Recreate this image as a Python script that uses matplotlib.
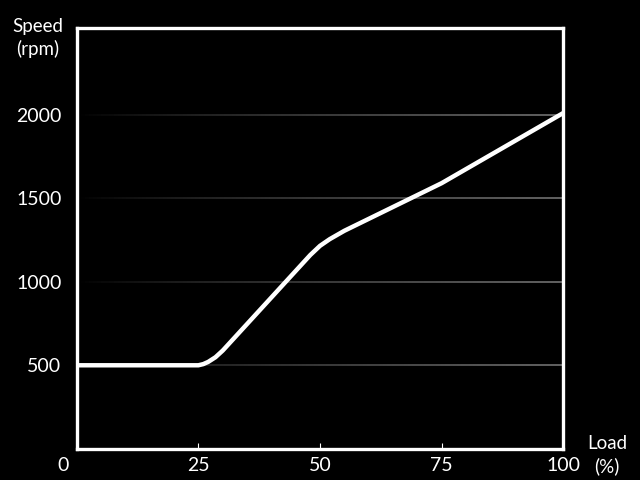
import numpy as np
import matplotlib.pyplot as plt
from matplotlib.collections import LineCollection
import matplotlib.transforms as mtransforms

plt.rcParams['font.family'] = ['Lato', 'DejaVu Sans']

# data
load = [0, 25, 26, 27, 28.5, 30, 48, 50, 52, 55, 75, 100]
speed = [500, 500, 507, 520, 548, 588, 1160, 1215, 1255, 1305, 1590, 2010]
grid_levels = [500, 1000, 1500, 2000]
xticks = [0, 25, 50, 75, 100]
yticks = [500, 1000, 1500, 2000]

fig = plt.figure(figsize=(6.4, 4.8), dpi=100, facecolor='black')
ax = fig.add_axes([0.120, 0.065, 0.760, 0.877], facecolor='black')

# fading grid lines (dark on the left, grey on the right)
xs = np.linspace(0, 100, 120)
for g in grid_levels:
    segs = [[(xs[i], g), (xs[i + 1], g)] for i in range(len(xs) - 1)]
    shade = np.clip((xs[:-1] / 100) ** 0.8, 0, 1) * 0.42
    cols = [(s, s, s, 1) for s in shade]
    ax.add_collection(LineCollection(segs, colors=cols, linewidths=1.3, zorder=1))

ax.plot(load, speed, color='white', lw=3.2, solid_capstyle='round',
        solid_joinstyle='round', zorder=3)

ax.set_xlim(0, 100)
ax.set_ylim(0, 2520)
for s in ax.spines.values():
    s.set_color('white')
    s.set_linewidth(2.4)
    s.set_zorder(4)

ax.set_xticks(xticks)
ax.set_yticks(yticks)
ax.tick_params(axis='x', colors='white', direction='in', length=4, width=0.8,
               labelsize=14, pad=6)
ax.tick_params(axis='y', colors='white', length=0, labelsize=14, pad=11)
for lab in ax.get_xticklabels():
    lab.set_color('white')
for lab in ax.get_yticklabels():
    lab.set_color('white')
# the "0" label sits left of the corner
lbl0 = ax.get_xticklabels()[0]
lbl0.set_transform(lbl0.get_transform() +
                   mtransforms.ScaledTranslation(-0.14, 0, fig.dpi_scale_trans))

fig.text(38 / 640, 1 - 38 / 480, 'Speed\n(rpm)', color='white', fontsize=13.5,
         ha='center', va='center', linespacing=1.3)
fig.text(607 / 640, 1 - 455 / 480, 'Load\n(%)', color='white', fontsize=13.5,
         ha='center', va='center', linespacing=1.3)

plt.savefig('out.png', dpi=100, facecolor='black')
